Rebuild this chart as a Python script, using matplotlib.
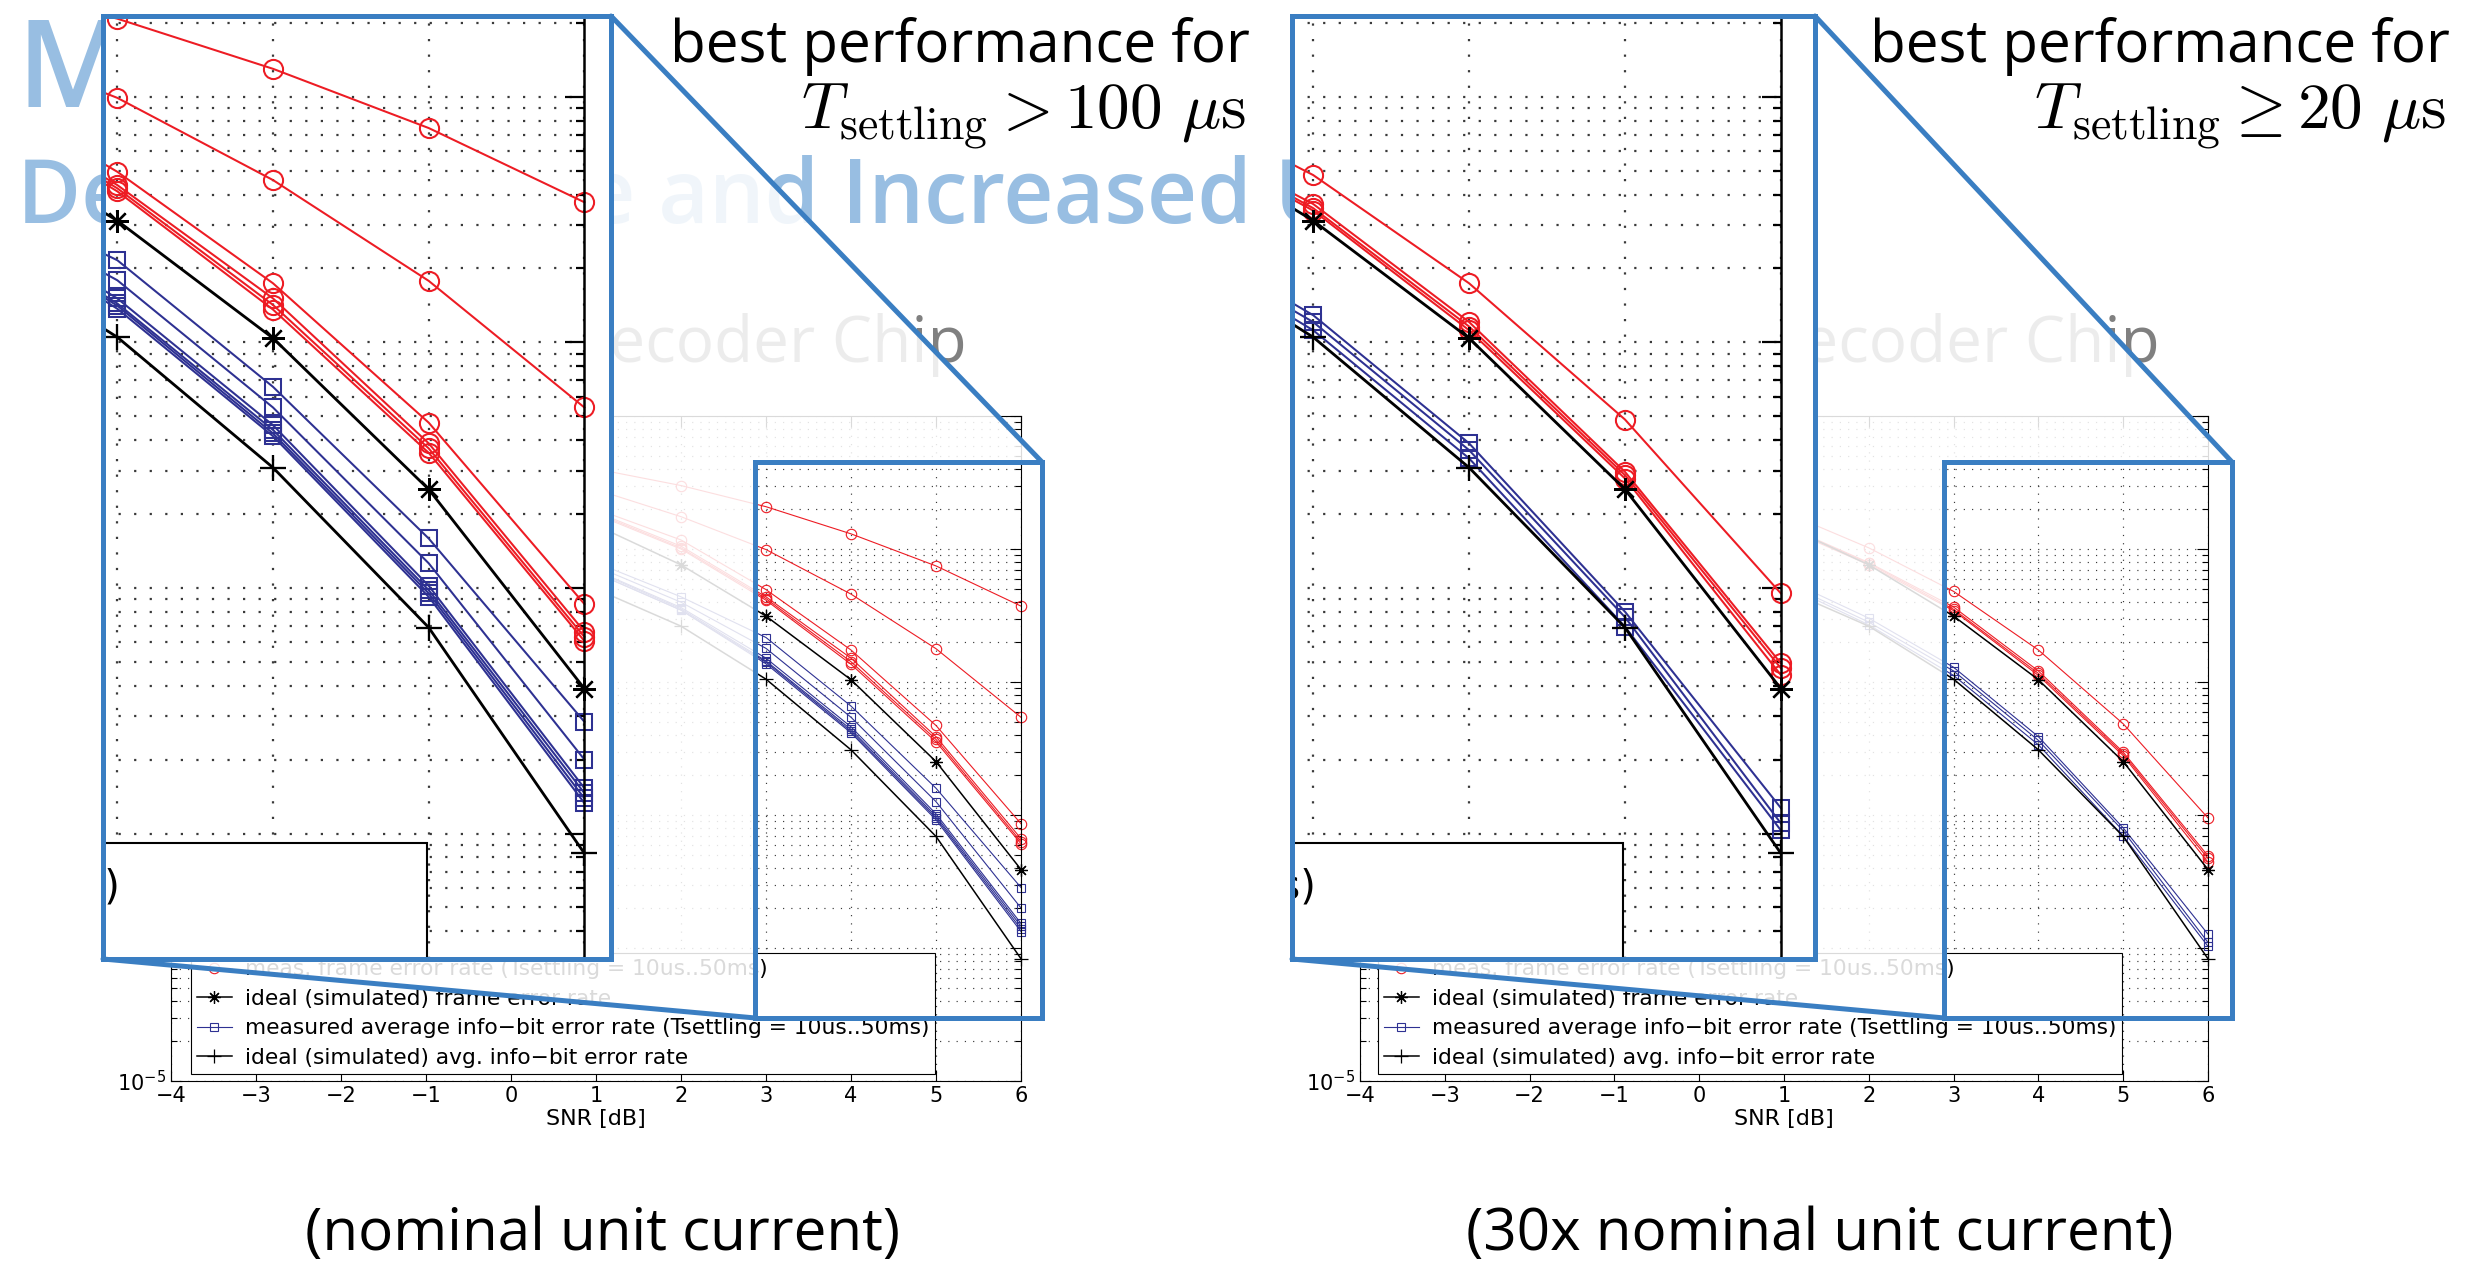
import matplotlib
matplotlib.use("Agg")
import matplotlib.pyplot as plt
from matplotlib.patches import Rectangle, Polygon
from matplotlib.lines import Line2D
from matplotlib.ticker import LogLocator, NullFormatter

# ---------------------------------------------------------------- data ----
snr_db = [1, 2, 3, 4, 5, 6]

# simulated reference curves (identical for both supply settings)
ideal_frame_err = [1.51e-1, 7.6e-2, 3.13e-2, 1.04e-2, 2.52e-3, 3.89e-4]
ideal_bit_err = [5.0e-2, 2.63e-2, 1.05e-2, 3.09e-3, 6.9e-4, 8.3e-5]

# nominal unit current: one row per settling time (10us .. 50ms)
nominal_frame_err = [
    [4.0e-1, 3.0e-1, 2.08e-1, 1.30e-1, 7.46e-2, 3.72e-2],
    [2.8e-1, 1.75e-1, 9.9e-2, 4.58e-2, 1.78e-2, 5.43e-3],
    [2.0e-1, 1.17e-1, 4.95e-2, 1.74e-2, 4.71e-3, 8.6e-4],
    [1.9e-1, 1.05e-1, 4.37e-2, 1.51e-2, 3.88e-3, 6.64e-4],
    [1.86e-1, 1.02e-1, 4.24e-2, 1.42e-2, 3.70e-3, 6.32e-4],
    [1.82e-1, 1.0e-1, 4.12e-2, 1.36e-2, 3.55e-3, 6.08e-4],
]
nominal_bit_err = [
    [7.9e-2, 4.37e-2, 2.16e-2, 6.59e-3, 1.59e-3, 2.85e-4],
    [7.4e-2, 3.98e-2, 1.79e-2, 5.43e-3, 1.26e-3, 2.00e-4],
    [6.9e-2, 3.63e-2, 1.51e-2, 4.60e-3, 1.02e-3, 1.53e-4],
    [6.8e-2, 3.55e-2, 1.44e-2, 4.40e-3, 9.8e-4, 1.46e-4],
    [6.6e-2, 3.47e-2, 1.41e-2, 4.26e-3, 9.5e-4, 1.39e-4],
    [6.6e-2, 3.47e-2, 1.37e-2, 4.15e-3, 9.2e-4, 1.33e-4],
]

# 30x nominal unit current
boosted_frame_err = [
    [1.9e-1, 1.02e-1, 4.80e-2, 1.74e-2, 4.85e-3, 9.5e-4],
    [1.51e-1, 7.9e-2, 3.66e-2, 1.21e-2, 2.97e-3, 4.93e-4],
    [1.48e-1, 7.8e-2, 3.52e-2, 1.16e-2, 2.88e-3, 4.71e-4],
    [1.45e-1, 7.6e-2, 3.44e-2, 1.12e-2, 2.79e-3, 4.42e-4],
]
boosted_bit_err = [
    [6.0e-2, 3.02e-2, 1.29e-2, 3.88e-3, 8.0e-4, 1.27e-4],
    [5.6e-2, 2.82e-2, 1.21e-2, 3.64e-3, 7.6e-4, 1.10e-4],
    [5.4e-2, 2.69e-2, 1.12e-2, 3.37e-3, 6.95e-4, 1.03e-4],
]

x_ticks = [-4, -3, -2, -1, 0, 1, 2, 3, 4, 5, 6]
legend_labels = [
    "meas. frame error rate (Tsettling = 10us..50ms)",
    "ideal (simulated) frame error rate",
    "measured average info\u2212bit error rate (Tsettling = 10us..50ms)",
    "ideal (simulated) avg. info\u2212bit error rate",
]
panel_captions = ["(nominal unit current)", "(30x nominal unit current)"]
settling_notes = [r"$T_{\mathrm{settling}} > 100\ \mu\mathrm{s}$",
                  r"$T_{\mathrm{settling}} \geq 20\ \mu\mathrm{s}$"]
title_lines = ["Measured Curves", "Decrease Time and Increased Unit Current"]
subtitle = "Decoder Chip"

# ---------------------------------------------------------------- style ---
W, H = 2482, 1273
RED = "#ED1C24"
NAVY = "#2E3192"
FRAME_BLUE = "#3A7EC2"
TITLE_BLUE = "#98BEE2"
GRID = "#3a3a3a"
SLIDE_FONT = ["Open Sans", "DejaVu Sans"]
PLOT_FONT = ["DejaVu Sans"]
MAG = 1.84                       # magnification of the detail views
LEGEND_SIZE = 15.7

plt.rcParams["font.family"] = PLOT_FONT
plt.rcParams["axes.unicode_minus"] = True

PANELS = [
    dict(axes=(171, 416, 1021, 1081), box=(103, 16, 611, 959), spine_px=584.4,
         zoom_x=(2.908, 6.0), rect_x=(2.871, 6.247),
         frame=nominal_frame_err, bit=nominal_bit_err,
         caption_x=603, note_x=1250, chip_x=563),
    dict(axes=(1360, 416, 2208, 1081), box=(1292, 16, 1815, 959), spine_px=1780.9,
         zoom_x=(2.864, 6.0), rect_x=(2.887, 6.283),
         frame=boosted_frame_err, bit=boosted_bit_err,
         caption_x=1820, note_x=2450, chip_x=1756),
]
ZOOM_Y = (10 ** -4.511, 10 ** -0.671)
RECT_Y = (10 ** -4.526, 10 ** -0.346)
LEGEND_CORNER = (4.99, 10 ** -4.04)


def frac(x0, y0, x1, y1):
    """Pixel box (origin top-left) -> figure-fraction rectangle."""
    return [x0 / W, 1 - y1 / H, (x1 - x0) / W, (y1 - y0) / H]


def pixel_axes(zorder):
    a = fig.add_axes([0, 0, 1, 1], zorder=zorder)
    a.set_xlim(0, W)
    a.set_ylim(H, 0)
    a.axis("off")
    a.patch.set_alpha(0)
    return a


def draw_curves(ax, frame_sets, bit_sets, k):
    drawn = []
    for row in frame_sets:
        drawn += ax.plot(snr_db, row, color=RED, lw=0.8 * k, marker="o", ms=7.5 * k,
                         mfc="none", mec=RED, mew=0.8 * k)
    drawn += ax.plot(snr_db, ideal_frame_err, color="k", lw=1.1 * k, marker=(8, 2, 0),
                     ms=9 * k, mew=0.9 * k)
    for row in bit_sets:
        drawn += ax.plot(snr_db, row, color=NAVY, lw=0.8 * k, marker="s", ms=6 * k,
                         mfc="none", mec=NAVY, mew=0.8 * k)
    drawn += ax.plot(snr_db, ideal_bit_err, color="k", lw=1.1 * k, marker="+",
                     ms=10 * k, mew=0.9 * k)
    return drawn


fig = plt.figure(figsize=(W / 100, H / 100), dpi=100)

# ----------------------------------------------------- slide background ---
bg = pixel_axes(0)
bg.text(17, 107, title_lines[0], fontsize=88, color=TITLE_BLUE, family=SLIDE_FONT,
        weight="semibold", va="baseline")
bg.text(17, 223, title_lines[1], fontsize=63, color=TITLE_BLUE, family=SLIDE_FONT,
        weight="semibold", va="baseline")
for p in PANELS:
    bg.text(p["chip_x"], 362, subtitle, fontsize=46, color="#808080",
            family=SLIDE_FONT, va="baseline")

fade = pixel_axes(2)
notes = pixel_axes(3)
frames = pixel_axes(5)

for i, p in enumerate(PANELS):
    # ------------------------------------------------------- main plot ---
    ax = fig.add_axes(frac(*p["axes"]), zorder=1)
    ax.set_yscale("log")
    lines = draw_curves(ax, p["frame"], p["bit"], 1.0)
    for ln in lines:
        ln.set_clip_on(False)
    ax.set_xticks(x_ticks)
    ax.set_xlim(-4, 6)
    ax.set_ylim(1e-5, 1)
    ax.yaxis.set_major_locator(LogLocator(base=10, numticks=10))
    ax.yaxis.set_minor_locator(LogLocator(base=10, subs=range(2, 10), numticks=10))
    ax.yaxis.set_minor_formatter(NullFormatter())
    ax.tick_params(which="both", direction="in", top=True, right=True, width=0.8,
                   labelsize=15)
    ax.tick_params(which="major", length=8)
    ax.tick_params(which="minor", length=4)
    ax.grid(True, axis="x", which="major", ls=(0, (1, 6)), lw=0.85, color=GRID)
    ax.grid(True, axis="y", which="both", ls=(0, (1, 6)), lw=0.85, color=GRID)
    for s in ax.spines.values():
        s.set_linewidth(0.8)
    ax.set_xlabel("SNR [dB]", fontsize=16, labelpad=2)

    n_frame = len(p["frame"])
    handles = [lines[0], lines[n_frame], lines[n_frame + 1], lines[-1]]
    leg = ax.legend(handles, legend_labels, loc="upper right",
                    bbox_to_anchor=LEGEND_CORNER, bbox_transform=ax.transData,
                    fontsize=LEGEND_SIZE, numpoints=1, fancybox=False, framealpha=1,
                    edgecolor="k", borderaxespad=0, borderpad=0.28,
                    handlelength=1.6, handletextpad=0.6, labelspacing=0.43)
    leg.get_frame().set_linewidth(0.8)

    # zoomed-region rectangle in figure pixels
    def px(x, y, ax=ax):
        dx, dy = ax.transData.transform((x, y))
        return dx, H - dy

    rx0, ry1 = px(p["rect_x"][0], RECT_Y[0])
    rx1, ry0 = px(p["rect_x"][1], RECT_Y[1])
    bx0, by0, bx1, by1 = p["box"]

    # fade everything that lies inside the call-out funnel
    fade.add_patch(Polygon([(bx1, by0), (rx1, ry0), (rx0, ry0), (rx0, ry1), (bx0, by1)],
                           closed=True, facecolor="white", edgecolor="none", alpha=0.86))

    # ------------------------------------------------ annotations ---
    if i == 0:
        notes.add_patch(Rectangle((640, 0), 622, 148, facecolor="white", edgecolor="none"))
    notes.text(p["note_x"], 62, "best performance for", fontsize=42, family=SLIDE_FONT,
               ha="right", va="baseline", color="k")
    notes.text(p["note_x"] - 4, 128, settling_notes[i], fontsize=47, ha="right",
               va="baseline", color="k", math_fontfamily="cm")
    notes.text(p["caption_x"], 1250, panel_captions[i], fontsize=42, family=SLIDE_FONT,
               ha="center", va="baseline", color="k")
    notes.add_patch(Rectangle((bx0, by0), bx1 - bx0, by1 - by0, facecolor="white",
                              edgecolor="none"))

    # ----------------------------------------------- magnified view ---
    ins = fig.add_axes(frac(bx0, by0, p["spine_px"], by1), zorder=4)
    ins.set_yscale("log")
    box_clip = Rectangle((bx0 / W, 1 - by1 / H), (bx1 - bx0) / W, (by1 - by0) / H,
                         transform=fig.transFigure)
    for ln in draw_curves(ins, p["frame"], p["bit"], MAG):
        ln.set_clip_path(box_clip)
    ins.set_xticks(x_ticks)
    ins.set_xlim(*p["zoom_x"])
    ins.set_ylim(*ZOOM_Y)
    ins.yaxis.set_major_locator(LogLocator(base=10, numticks=10))
    ins.yaxis.set_minor_locator(LogLocator(base=10, subs=range(2, 10), numticks=10))
    ins.yaxis.set_minor_formatter(NullFormatter())
    ins.tick_params(axis="x", which="both", length=0, labelbottom=False)
    ins.yaxis.set_ticks_position("right")
    ins.tick_params(axis="y", which="both", direction="in", labelright=False,
                    labelleft=False, width=1.6)
    ins.tick_params(axis="y", which="major", length=14)
    ins.tick_params(axis="y", which="minor", length=6)
    ins.grid(True, axis="x", which="major", ls=(0, (1, 6)), lw=1.6, color=GRID)
    ins.grid(True, axis="y", which="both", ls=(0, (1, 6)), lw=1.6, color=GRID)
    for side in ("left", "top", "bottom"):
        ins.spines[side].set_visible(False)
    ins.spines["right"].set_linewidth(1.8)
    # corner of the legend box, magnified
    ins.add_patch(Rectangle((2.0, 1e-6), LEGEND_CORNER[0] - 2.0, LEGEND_CORNER[1] - 1e-6,
                            facecolor="white", edgecolor="k", lw=1.5, zorder=5))
    ins.text(3.02, 10 ** -4.22, "50ms)", fontsize=LEGEND_SIZE * MAG, ha="right",
             va="center", zorder=6, clip_on=True)

    # ------------------------------------------------ call-out frames ---
    frames.add_patch(Rectangle((bx0, by0), bx1 - bx0, by1 - by0, facecolor="none",
                               edgecolor=FRAME_BLUE, lw=3.6, joinstyle="miter"))
    frames.add_patch(Rectangle((rx0, ry0), rx1 - rx0, ry1 - ry0, facecolor="none",
                               edgecolor=FRAME_BLUE, lw=3.6, joinstyle="miter"))
    frames.add_line(Line2D([bx1, rx1], [by0, ry0], color=FRAME_BLUE, lw=3.6,
                           solid_capstyle="round"))
    frames.add_line(Line2D([bx0, rx0], [by1, ry1], color=FRAME_BLUE, lw=3.6,
                           solid_capstyle="round"))

fig.savefig("out.png", dpi=100, facecolor="white")
